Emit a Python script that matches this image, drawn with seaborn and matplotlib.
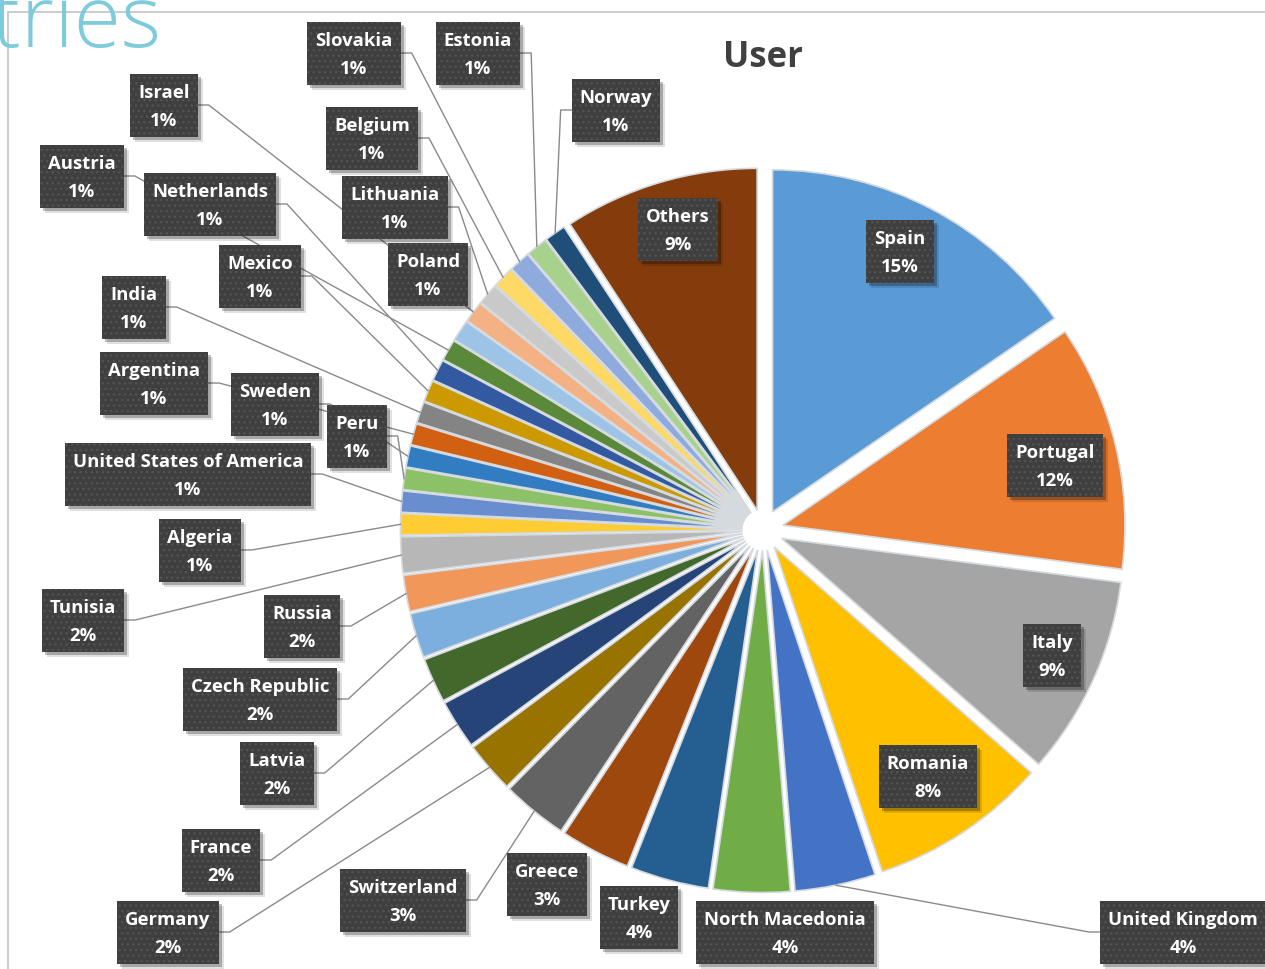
import numpy as np
import pandas as pd
import seaborn as sns
import matplotlib
matplotlib.use("Agg")
import matplotlib.pyplot as plt
from matplotlib.patches import Rectangle

# ---------------- data ----------------
countries = ["Spain", "Portugal", "Italy", "Romania", "United Kingdom",
             "North Macedonia", "Turkey", "Greece", "Switzerland", "Germany",
             "France", "Latvia", "Czech Republic", "Russia", "Tunisia",
             "Algeria", "United States of America", "Peru", "Sweden",
             "Argentina", "India", "Mexico", "Netherlands", "Austria",
             "Poland", "Israel", "Lithuania", "Belgium", "Slovakia",
             "Estonia", "Norway", "Others"]
shares = [15.4, 11.6, 9.4, 8.4, 3.8,
          3.6, 3.7, 3.3, 3.1, 2.4,
          2.3, 2.1, 2.1, 1.7, 1.7,
          1.0, 1.0, 1.0, 1.0,
          1.0, 1.0, 1.0, 1.0, 1.0,
          1.0, 1.0, 1.0, 1.0, 1.0,
          1.0, 1.0, 9.2]
slice_colors = ["#5B9BD5", "#ED7D31", "#A5A5A5", "#FFC000", "#4472C4",
                "#70AD47", "#255E91", "#9E480E", "#636363", "#997300",
                "#264478", "#43682B", "#7CAFDD", "#F1975A", "#B7B7B7",
                "#FFCD33", "#698ED0", "#8CC168", "#327DC2", "#D26012",
                "#848484", "#CC9A00", "#335AA1", "#5A8A39", "#9DC3E6",
                "#F4B183", "#C9C9C9", "#FFD966", "#8FAADC", "#A9D18E",
                "#1F4E79", "#843C0C"]
chart_title = "User"
page_title_fragment = "tries"

df = pd.DataFrame({"country": countries, "share": shares})

# ---------------- layout (pixel positions of label boxes, leader side) ----------------
W, H = 1265, 969
label_layout = {
    "Spain": (900, 251, None), "Portugal": (1055, 465, None),
    "Italy": (1052, 655, None), "Romania": (928, 776, None),
    "United Kingdom": (1183, 932, "left"), "North Macedonia": (785, 932, None),
    "Turkey": (639, 917, None), "Greece": (547, 884, None),
    "Switzerland": (403, 900, "right"), "Germany": (168, 932, "right"),
    "France": (221, 860, "right"), "Latvia": (277, 773, "right"),
    "Czech Republic": (260, 699, "right"), "Russia": (302, 626, "right"),
    "Tunisia": (83, 620, "right"), "Algeria": (200, 550, "right"),
    "United States of America": (188, 474, "right"), "Peru": (357, 436, "right"),
    "Sweden": (275, 404, "right"), "Argentina": (154, 383, "right"),
    "India": (134, 307, "right"), "Mexico": (260, 276, "right"),
    "Netherlands": (210, 204, "right"), "Austria": (82, 176, "right"),
    "Poland": (428, 274, None), "Israel": (164, 105, "right"),
    "Lithuania": (395, 207, "right"), "Belgium": (372, 138, "right"),
    "Slovakia": (354, 53, "right"), "Estonia": (478, 53, "right"),
    "Norway": (616, 110, "left"), "Others": (678, 229, None),
}

sns.set_theme(style="white")
plt.rcParams["font.family"] = ["Open Sans", "DejaVu Sans"]

fig = plt.figure(figsize=(12.65, 9.69), dpi=100)
fig.patch.set_facecolor("white")
ax = fig.add_axes([0, 0, 1, 1])

palette = sns.color_palette(slice_colors)
radius = 342
pie_center = (763, H - 530)
wedges, _ = ax.pie(df["share"], colors=palette, startangle=90, counterclock=False,
                   center=pie_center, radius=radius,
                   explode=[radius * 0.06] * len(df),
                   wedgeprops=dict(edgecolor="#d5dadf", linewidth=1.2))
ax.set_xlim(0, W)
ax.set_ylim(0, H)
ax.set_aspect("auto")
ax.axis("off")

# frame lines of the slide placeholder
ax.plot([8, W], [H - 12, H - 12], color="#c8c8c8", lw=1.3, zorder=0.5)
ax.plot([8, 8], [H - 12, 0], color="#c8c8c8", lw=1.3, zorder=0.5)

ax.text(-8, H - 47, page_title_fragment, fontsize=62, color="#7ecbdc",
        fontweight="light", ha="left", va="baseline", zorder=0.6)
ax.text(763, H - 58, chart_title, fontsize=25, fontweight="bold",
        color="#404040", ha="center", va="center", zorder=6)

texts = []
for name, val in zip(df["country"], df["share"]):
    cx, cy, side = label_layout[name]
    t = ax.text(cx, H - cy - 2, f"{name}\n{round(val)}%", ha="center", va="center",
                multialignment="center", color="white", fontsize=13.3,
                fontweight="bold", linespacing=1.75, zorder=5)
    texts.append(t)

fig.canvas.draw()
renderer = fig.canvas.get_renderer()
box_h = 63
for (name, val), t, w in zip(zip(df["country"], df["share"]), texts, wedges):
    cx, cy, side = label_layout[name]
    bb = t.get_window_extent(renderer)
    bw = bb.width + 16
    left, bottom = cx - bw / 2, (H - cy) - box_h / 2
    ax.add_patch(Rectangle((left + 5, bottom - 5), bw, box_h, fc="black",
                           alpha=0.12, lw=0, zorder=3))
    ax.add_patch(Rectangle((left + 3, bottom - 3), bw, box_h, fc="black",
                           alpha=0.25, lw=0, zorder=3.1))
    ax.add_patch(Rectangle((left, bottom), bw, box_h, fc="#3f3f3f",
                           ec="#535353", lw=0, hatch="...", zorder=4))
    if side is not None:
        mid = np.deg2rad((w.theta1 + w.theta2) / 2)
        ex = w.center[0] + w.r * np.cos(mid)
        ey = w.center[1] + w.r * np.sin(mid)
        if side == "right":
            ax_ = left + bw
            el = ax_ + 11
        else:
            ax_ = left
            el = ax_ - 11
        ay = H - cy
        ax.plot([ax_, el, ex], [ay, ay, ey], color="#8a8a8a", lw=1.0,
                zorder=2, solid_joinstyle="round")

fig.savefig("out.png", dpi=100)
